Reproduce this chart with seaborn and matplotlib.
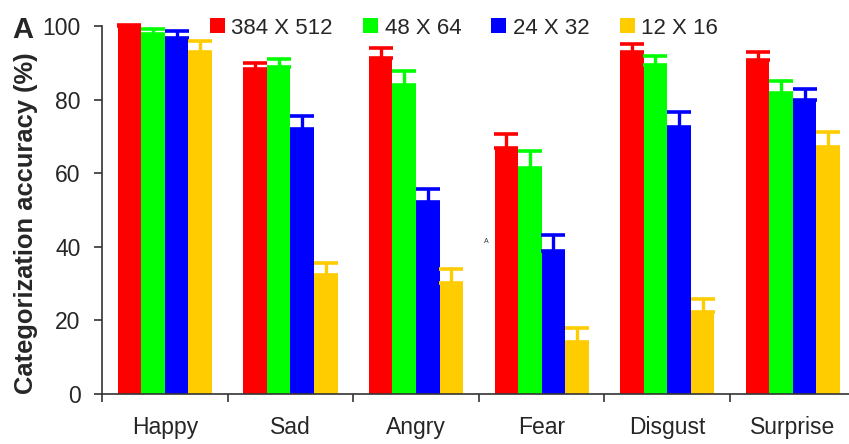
import matplotlib
matplotlib.use("Agg")
import matplotlib.pyplot as plt
import seaborn as sns
import pandas as pd
import numpy as np

# Categories and resolution conditions
categories = ["Happy", "Sad", "Angry", "Fear", "Disgust", "Surprise"]
resolutions = ["384 X 512", "48 X 64", "24 X 32", "12 X 16"]

# Mean categorization accuracy (%) per resolution
acc_384x512 = [100.0, 88.4, 91.4, 66.9, 92.9, 90.8]
acc_48x64 = [98.0, 89.0, 84.0, 61.5, 89.4, 81.9]
acc_24x32 = [96.9, 72.1, 52.2, 38.9, 72.7, 79.8]
acc_12x16 = [93.1, 32.4, 30.2, 14.1, 22.3, 67.1]

# Upper error (SEM) per resolution
err_384x512 = [0.3, 1.7, 2.8, 3.7, 2.2, 2.2]
err_48x64 = [1.2, 2.1, 3.7, 4.7, 2.6, 3.1]
err_24x32 = [1.9, 3.4, 3.5, 4.4, 3.9, 3.2]
err_12x16 = [2.9, 3.3, 3.7, 3.9, 3.6, 4.1]

colors = ["#FF0000", "#00FF00", "#0000FF", "#FFCC00"]

means = [acc_384x512, acc_48x64, acc_24x32, acc_12x16]
errors = [err_384x512, err_48x64, err_24x32, err_12x16]

df = pd.DataFrame({
    "emotion": np.tile(categories, len(resolutions)),
    "resolution": np.repeat(resolutions, len(categories)),
    "accuracy": np.concatenate(means),
})

sns.set_theme(style="ticks")
plt.rcParams["font.family"] = ["Liberation Sans", "DejaVu Sans"]

fig = plt.figure(figsize=(8.49, 4.44), dpi=100)
ax = fig.add_axes([102 / 849, 50 / 444, 1 - 102 / 849, (394 - 26.2) / 444])

sns.barplot(
    data=df, x="emotion", y="accuracy", hue="resolution",
    order=categories, hue_order=resolutions, palette=colors,
    width=0.75, gap=0, errorbar=None, saturation=1,
    linewidth=0, ax=ax,
)

# Upper-only error bars centred on each bar
for container, err, col in zip(ax.containers, errors, colors):
    xs = [p.get_x() + p.get_width() / 2 for p in container.patches]
    hs = [p.get_height() for p in container.patches]
    ax.errorbar(xs, hs, yerr=[np.zeros(len(err)), err], fmt="none",
                ecolor=col, elinewidth=2.4, capsize=8.5, capthick=2.6,
                clip_on=False, zorder=3)

ax.set_ylim(0, 100)
ax.set_xlim(-0.5, 5.447)
ax.set_yticks([0, 20, 40, 60, 80, 100])
ax.tick_params(axis="y", labelsize=16.5, length=5.5, width=1.2, pad=10,
               color="#333333")

# Boundary ticks between groups, category labels at the group centres
ax.set_xticks(np.arange(-0.5, 5.0, 1.0))
ax.set_xticklabels([])
ax.set_xticks(np.arange(len(categories)), minor=True)
ax.set_xticklabels(categories, minor=True)
ax.tick_params(axis="x", which="major", length=5.5, width=1.2, color="#333333")
ax.tick_params(axis="x", which="minor", length=0, labelsize=16.5, pad=16)

for side in ["top", "right"]:
    ax.spines[side].set_visible(False)
for side in ["left", "bottom"]:
    ax.spines[side].set_color("#333333")
    ax.spines[side].set_linewidth(1.2)

ax.set_xlabel("")
ax.set_ylabel("Categorization accuracy (%)", fontsize=18.4, fontweight="bold")
ax.yaxis.set_label_coords(-0.086, 0.465)

ax.legend(
    loc="center", bbox_to_anchor=(464 / 849, 416 / 444),
    bbox_transform=fig.transFigure, ncol=4, frameon=False, fontsize=16,
    handlelength=0.68, handleheight=0.68, handletextpad=0.3,
    columnspacing=1.35, borderaxespad=0, borderpad=0,
)

fig.text(12 / 849, 1 - 38 / 444, "A", fontsize=21, fontweight="bold",
         ha="left", va="baseline")
ax.text(2.56, 41.5, "A", fontsize=5, color="#333333", ha="center",
        va="center")

fig.savefig("out.png", dpi=100)
